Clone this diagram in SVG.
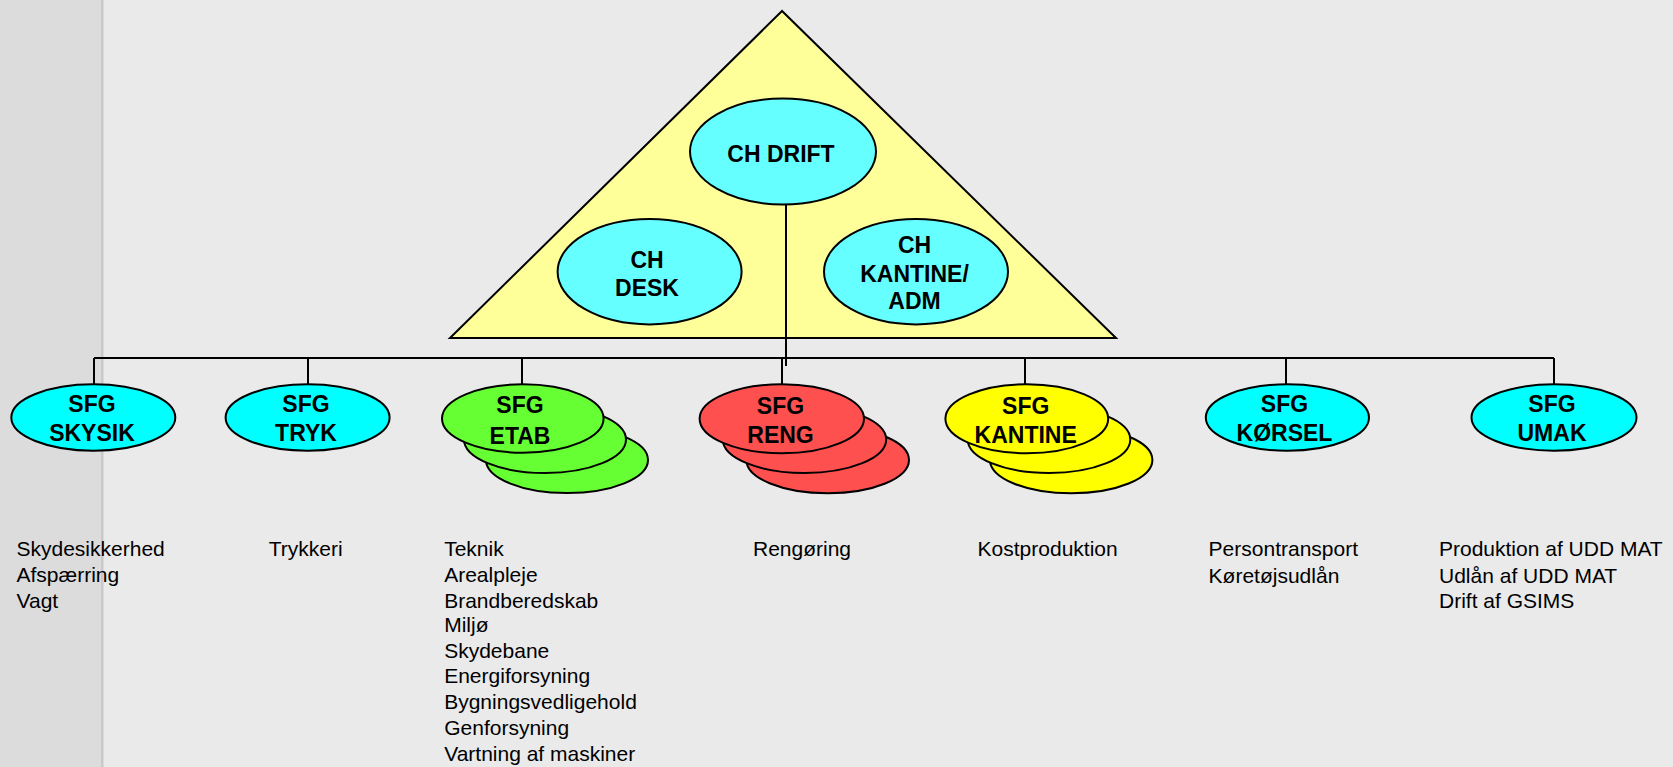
<svg xmlns="http://www.w3.org/2000/svg" width="1673" height="767" viewBox="0 0 1673 767">
<style>
.b{font-family:"Liberation Sans",Arial,sans-serif;font-weight:bold;font-size:23px;text-anchor:middle;fill:#000}
.t{font-family:"Liberation Sans",Arial,sans-serif;font-size:21px;fill:#000}
.e{stroke:#000;stroke-width:2}
.l{stroke:#000;stroke-width:2;fill:none}
.ch{fill:#66ffff}
.cy{fill:#00ffff}
.gr{fill:#66ff33}
.rd{fill:#ff5050}
.yl{fill:#ffff00}
</style>
<rect x="0" y="0" width="1673" height="767" fill="#eaeaea"/>
<rect x="0" y="0" width="101" height="767" fill="#dcdcdc"/>
<rect x="101" y="0" width="2.5" height="767" fill="#c9c9c9"/>
<g id="triangle">
<polygon points="782,11 450,338 1116,338" fill="#ffff99" stroke="#000" stroke-width="2"/>
</g>
<g id="connectors">
<line class="l" x1="786" y1="204" x2="786" y2="366"/>
<line class="l" x1="94" y1="358" x2="1554" y2="358"/>
<line class="l" x1="94" y1="358" x2="94" y2="386"/>
<line class="l" x1="308" y1="358" x2="308" y2="386"/>
<line class="l" x1="522" y1="358" x2="522" y2="386"/>
<line class="l" x1="782" y1="358" x2="782" y2="386"/>
<line class="l" x1="1025" y1="358" x2="1025" y2="386"/>
<line class="l" x1="1286" y1="358" x2="1286" y2="386"/>
<line class="l" x1="1554" y1="358" x2="1554" y2="386"/>
</g>
<g id="ch-drift">
<ellipse class="e ch" cx="783" cy="151.5" rx="93" ry="53"/>
<text class="b" x="781" y="161.5">CH DRIFT</text>
</g>
<g id="ch-desk">
<ellipse class="e ch" cx="649.6" cy="271.7" rx="92" ry="52.7"/>
<text class="b" x="647" y="267.5">CH</text>
<text class="b" x="647" y="295.5">DESK</text>
</g>
<g id="ch-kantine-adm">
<ellipse class="e ch" cx="916" cy="271.7" rx="92" ry="52.7"/>
<text class="b" x="914.5" y="253.3">CH</text>
<text class="b" x="914.5" y="281.5">KANTINE/</text>
<text class="b" x="914.5" y="309.3">ADM</text>
</g>
<g id="sfg-skysik">
<ellipse class="e cy" cx="93.3" cy="417.5" rx="82" ry="33.2"/>
<text class="b" x="92" y="411.7">SFG</text>
<text class="b" x="92" y="441">SKYSIK</text>
</g>
<g id="sfg-tryk">
<ellipse class="e cy" cx="307.6" cy="417.5" rx="82" ry="33.2"/>
<text class="b" x="306" y="411.7">SFG</text>
<text class="b" x="306" y="441">TRYK</text>
</g>
<g id="sfg-etab">
<ellipse class="e gr" cx="567" cy="460" rx="81" ry="33"/>
<ellipse class="e gr" cx="545" cy="439.5" rx="81" ry="33.5"/>
<ellipse class="e gr" cx="522.8" cy="418.5" rx="80.8" ry="34.2"/>
<text class="b" x="520" y="413">SFG</text>
<text class="b" x="520" y="443.5">ETAB</text>
</g>
<g id="sfg-reng">
<ellipse class="e rd" cx="827.7" cy="460" rx="81.3" ry="33.3"/>
<ellipse class="e rd" cx="804.5" cy="439.5" rx="81.7" ry="33.5"/>
<ellipse class="e rd" cx="781.8" cy="418.8" rx="82.2" ry="34.5"/>
<text class="b" x="780.5" y="413.5">SFG</text>
<text class="b" x="780.5" y="443">RENG</text>
</g>
<g id="sfg-kantine">
<ellipse class="e yl" cx="1071.2" cy="460" rx="81.2" ry="33.3"/>
<ellipse class="e yl" cx="1049" cy="439.5" rx="81.3" ry="33.5"/>
<ellipse class="e yl" cx="1026.8" cy="418.8" rx="81.4" ry="34.5"/>
<text class="b" x="1025.7" y="413.5">SFG</text>
<text class="b" x="1025.7" y="443">KANTINE</text>
</g>
<g id="sfg-korsel">
<ellipse class="e cy" cx="1287.4" cy="417.5" rx="81.6" ry="33.2"/>
<text class="b" x="1284.5" y="411.7">SFG</text>
<text class="b" x="1284.5" y="441">KØRSEL</text>
</g>
<g id="sfg-umak">
<ellipse class="e cy" cx="1554" cy="417.5" rx="82.5" ry="33.2"/>
<text class="b" x="1552" y="411.7">SFG</text>
<text class="b" x="1552" y="441">UMAK</text>
</g>
<g id="tasks">
<text class="t" x="16.5" y="556">Skydesikkerhed</text>
<text class="t" x="16.5" y="582">Afspærring</text>
<text class="t" x="16.5" y="608">Vagt</text>
<text class="t" x="268.7" y="556">Trykkeri</text>
<text class="t" x="444.2" y="556">Teknik</text>
<text class="t" x="444.2" y="582">Arealpleje</text>
<text class="t" x="444.2" y="608">Brandberedskab</text>
<text class="t" x="444.2" y="632">Miljø</text>
<text class="t" x="444.2" y="657.5">Skydebane</text>
<text class="t" x="444.2" y="683.3">Energiforsyning</text>
<text class="t" x="444.2" y="709.3">Bygningsvedligehold</text>
<text class="t" x="444.2" y="735">Genforsyning</text>
<text class="t" x="444.2" y="760.7">Vartning af maskiner</text>
<text class="t" x="753" y="556">Rengøring</text>
<text class="t" x="977.6" y="556">Kostproduktion</text>
<text class="t" x="1208.6" y="556">Persontransport</text>
<text class="t" x="1208.6" y="582.5">Køretøjsudlån</text>
<text class="t" x="1439" y="556">Produktion af UDD MAT</text>
<text class="t" x="1439" y="582.5">Udlån af UDD MAT</text>
<text class="t" x="1439" y="608.3">Drift af GSIMS</text>
</g>
</svg>
